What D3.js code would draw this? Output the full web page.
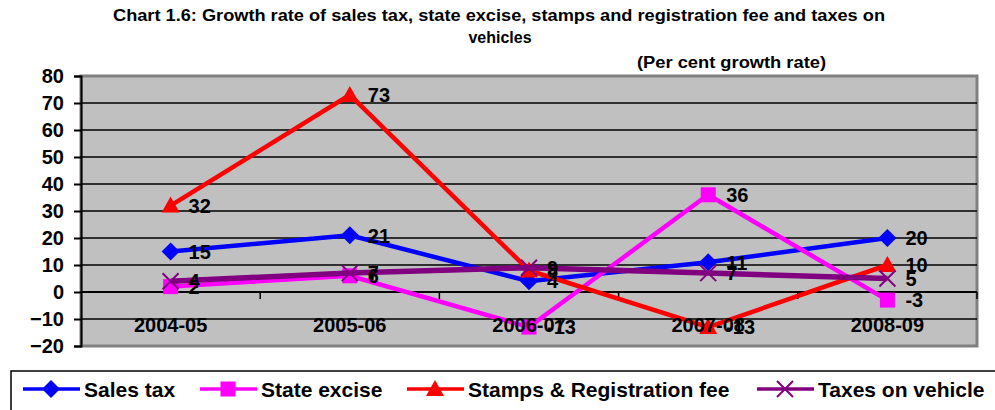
<!DOCTYPE html>
<html lang="en">
<meta charset="utf-8">
<title>Chart 1.6</title>
<head>
<style>
  body { margin: 0; background: #fff; }
  text { font-family: Arial, "Liberation Sans", sans-serif; font-weight: bold; }
</style>
</head>
<body>
  <script src="https://d3js.org/d3.v7.min.js"></script>
  <div id="chart"></div>
  <script>

    // data
    var years = ["2004-05", "2005-06", "2006-07", "2007-08", "2008-09"];
    var salesTax = [15, 21, 4, 11, 20];
    var stateExcise = [2, 6, -13, 36, -3];
    var stamps = [32, 73, 8, -13, 10];
    var vehicles = [4, 7, 9, 7, 5];
    var yTicks = [-20, -10, 0, 10, 20, 30, 40, 50, 60, 70, 80];

    var series = [
      { name: "Sales tax", values: salesTax, color: "#0000ff", shape: "diamond", width: 4.5 },
      { name: "State excise", values: stateExcise, color: "#ff00ff", shape: "square", width: 4.5 },
      { name: "Stamps & Registration fee", values: stamps, color: "#ff0000", shape: "triangle", width: 4.5 },
      { name: "Taxes on vehicle", values: vehicles, color: "#800080", shape: "cross", width: 5.5 }
    ];

    var W = 995, H = 410;
    var plot = { left: 81, right: 977, top: 76, bottom: 346 };

    var svg = d3.select("#chart").append("svg")
      .attr("width", W).attr("height", H);

    // titles
    svg.append("text").attr("x", 113).attr("y", 21)
      .attr("font-size", 16).attr("textLength", 772).attr("lengthAdjust", "spacingAndGlyphs")
      .text("Chart 1.6: Growth rate of sales tax, state excise, stamps and registration fee and taxes on");
    svg.append("text").attr("x", 500).attr("y", 43).attr("text-anchor", "middle")
      .attr("font-size", 16).text("vehicles");
    svg.append("text").attr("x", 637).attr("y", 68)
      .attr("font-size", 16).attr("textLength", 189).attr("lengthAdjust", "spacingAndGlyphs")
      .text("(Per cent growth rate)");

    var x = d3.scaleBand().domain(years).range([plot.left, plot.right]);
    var y = d3.scaleLinear().domain([-20, 80]).range([plot.bottom, plot.top]);

    // plot background
    svg.append("rect")
      .attr("x", plot.left).attr("y", plot.top)
      .attr("width", plot.right - plot.left).attr("height", plot.bottom - plot.top)
      .attr("fill", "#c0c0c0").attr("stroke", "#808080").attr("stroke-width", 3);

    // gridlines
    svg.append("g").selectAll("line")
      .data(yTicks.filter(d => d !== 80 && d !== -20 && d !== 0))
      .join("line")
      .attr("x1", plot.left).attr("x2", plot.right)
      .attr("y1", d => y(d)).attr("y2", d => y(d))
      .attr("stroke", "#000").attr("stroke-width", 1.5);

    // y axis
    var yAxis = svg.append("g")
      .attr("transform", "translate(" + plot.left + ",0)")
      .call(d3.axisLeft(y).tickValues(yTicks).tickSize(7).tickPadding(10).tickFormat(d3.format("d")));
    yAxis.select(".domain").attr("stroke", "#000").attr("stroke-width", 2);
    yAxis.selectAll(".tick line").attr("stroke", "#000").attr("stroke-width", 2);
    yAxis.selectAll("text").attr("font-size", 20).attr("fill", "#000")
      .attr("font-family", "Arial, 'Liberation Sans', sans-serif").attr("font-weight", "bold");

    // x axis on zero line
    var xAxis = svg.append("g")
      .attr("transform", "translate(0," + y(0) + ")");
    xAxis.append("line")
      .attr("x1", plot.left).attr("x2", plot.right)
      .attr("stroke", "#000").attr("stroke-width", 2);
    xAxis.selectAll(".tk")
      .data(years.slice(1).concat(["end"]))
      .join("line")
      .attr("x1", (d, i) => plot.left + x.step() * (i + 1))
      .attr("x2", (d, i) => plot.left + x.step() * (i + 1))
      .attr("y1", 0).attr("y2", 7)
      .attr("stroke", "#000").attr("stroke-width", 1.5);

    function cx(i) { return x(years[i]) + x.bandwidth() / 2; }

    function marker(g, shape, color) {
      if (shape === "diamond") {
        g.append("path").attr("d", "M0,-9L9,0L0,9L-9,0Z").attr("fill", color);
      } else if (shape === "square") {
        g.append("rect").attr("x", -7.5).attr("y", -7.5).attr("width", 15).attr("height", 15).attr("fill", color);
      } else if (shape === "triangle") {
        g.append("path").attr("d", "M0,-9L9,7L-9,7Z").attr("fill", color);
      } else {
        g.append("path").attr("d", "M-8,-8L8,8M-8,8L8,-8").attr("stroke", color).attr("stroke-width", 2).attr("fill", "none");
      }
    }

    var line = d3.line().x((d, i) => cx(i)).y(d => y(d));

    series.forEach(s => {
      var g = svg.append("g");
      g.append("path")
        .datum(s.values)
        .attr("fill", "none")
        .attr("stroke", s.color)
        .attr("stroke-width", s.width)
        .attr("d", line);
      s.values.forEach((v, i) => {
        marker(g.append("g").attr("transform", "translate(" + cx(i) + "," + y(v) + ")"), s.shape, s.color);
      });
    });

    // category labels sit on top of the lines
    svg.append("g").selectAll("text")
      .data(years)
      .join("text")
      .attr("x", d => x(d) + x.bandwidth() / 2)
      .attr("y", y(0) + 39.5)
      .attr("text-anchor", "middle")
      .attr("font-size", 20)
      .text(d => d);

    // data labels
    series.forEach(s => {
      svg.append("g").selectAll("text")
        .data(s.values)
        .join("text")
        .attr("x", (d, i) => cx(i) + 18)
        .attr("y", d => y(d))
        .attr("dy", "0.36em")
        .attr("font-size", 20)
        .text(d => d);
    });

    // legend
    var legend = svg.append("g");
    legend.append("rect")
      .attr("x", 11).attr("y", 371).attr("width", 1000).attr("height", 60)
      .attr("fill", "#fff").attr("stroke", "#000").attr("stroke-width", 1.5);
    var legendX = [23, 200, 407, 757];
    series.forEach((s, i) => {
      var lg = legend.append("g").attr("transform", "translate(" + legendX[i] + ",389)");
      lg.append("line").attr("x1", 0).attr("x2", 57)
        .attr("stroke", s.color).attr("stroke-width", 3.5);
      marker(lg.append("g").attr("transform", "translate(28,0)"), s.shape, s.color);
      lg.append("text").attr("x", 61).attr("dy", "0.36em")
        .attr("font-size", 21).text(s.name);
    });

  </script>
</body>
</html>
